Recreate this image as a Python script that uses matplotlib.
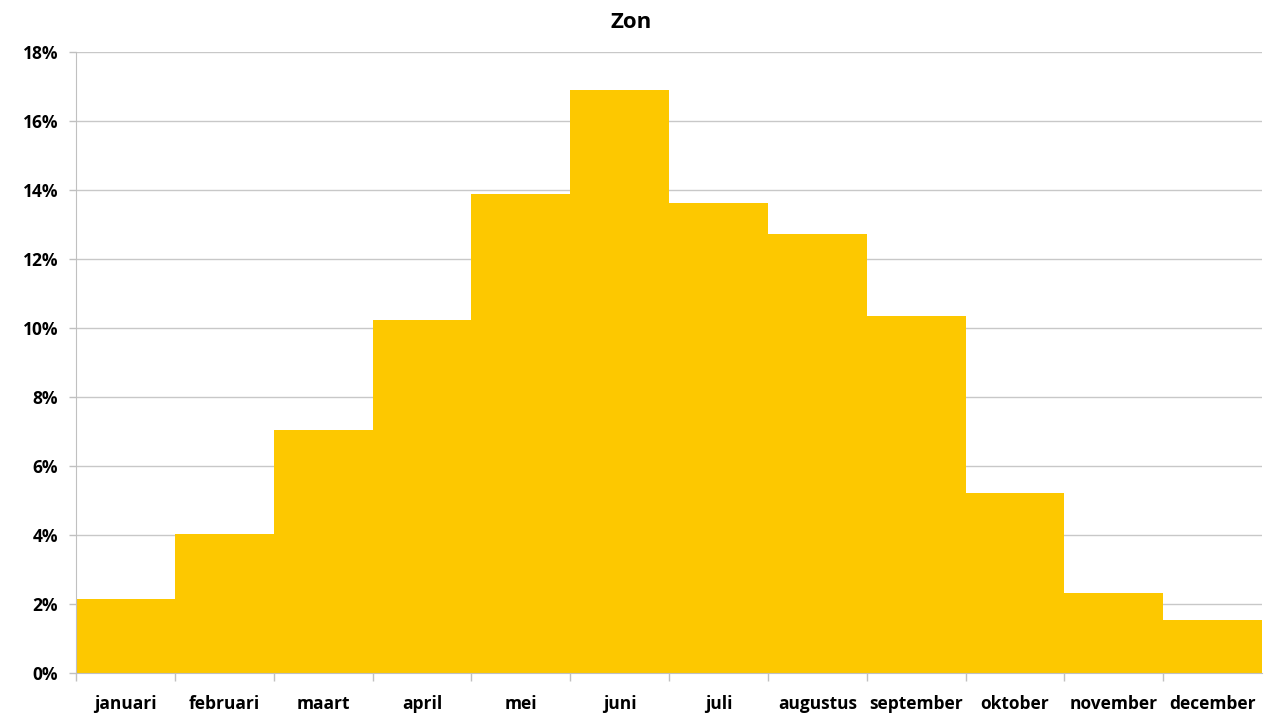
import matplotlib.pyplot as plt
import numpy as np

# Maandelijkse verdeling zon
maanden = ['januari', 'februari', 'maart', 'april', 'mei', 'juni',
           'juli', 'augustus', 'september', 'oktober', 'november', 'december']
waarden = [2.14, 4.03, 7.04, 10.23, 13.88, 16.9,
           13.62, 12.72, 10.35, 5.22, 2.32, 1.54]

plt.rcParams['font.family'] = ['Open Sans', 'DejaVu Sans']
plt.rcParams['font.weight'] = 'bold'

fig = plt.figure(figsize=(12.8, 7.2), dpi=100)
ax = fig.add_axes([0.0594, 0.0653, 0.9266, 0.8627])

x = np.arange(len(maanden))
ax.bar(x, waarden, width=1.0, color='#FDC800', zorder=2)

ax.set_xlim(-0.5, len(maanden) - 0.5)
ax.set_ylim(0, 18)
ax.set_yticks(range(0, 19, 2))
ax.set_yticklabels([f'{v}%' for v in range(0, 19, 2)], fontsize=12.5, fontweight='bold')
ax.yaxis.grid(True, color='#c8c8c8', linewidth=1, zorder=0)

ax.set_xticks(x)
ax.set_xticklabels(maanden, fontsize=12.5, fontweight='bold')
ax.tick_params(axis='x', length=0, pad=16)
ax.set_xticks(np.arange(len(maanden)) - 0.5, minor=True)
ax.tick_params(axis='x', which='minor', length=6, color='#c0c0c0', width=1)
ax.tick_params(axis='y', length=5, color='#c0c0c0', width=1, pad=8)

for s in ['top', 'right']:
    ax.spines[s].set_visible(False)
for s in ['left', 'bottom']:
    ax.spines[s].set_color('#c0c0c0')
    ax.spines[s].set_zorder(3)

fig.text(631 / 1280, 1 - 22 / 720, 'Zon', fontsize=16, fontweight='bold',
         ha='center', va='center')

fig.savefig('out.png', dpi=100)
